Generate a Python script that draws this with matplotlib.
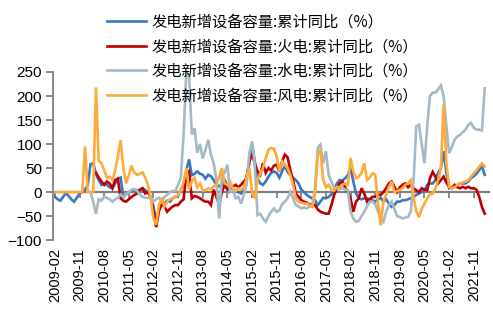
import numpy as np
import matplotlib
matplotlib.use("Agg")
import matplotlib.pyplot as plt

nan = np.nan

# Monthly data, 2009-02 .. 2022-03 (158 months)
start_month = "2009-02"
tick_labels = ["2009-02", "2009-11", "2010-08", "2011-05", "2012-02", "2012-11",
               "2013-08", "2014-05", "2015-02", "2015-11", "2016-08", "2017-05",
               "2018-02", "2018-11", "2019-08", "2020-05", "2021-02", "2021-11"]
tick_step = 9

total = [-10, -15, -18, -10, -2, -8, -15, -20, -12, -3,
         0, 5, 15, 58, 60, 38, 25, 15, 18, 15,
         10, 8, 18, 28, 30, -10, -5, 0, 3, 4,
         4, 3, 8, 4, 0, -10, -30, -62, -35, -25,
         -24, -18, -20, -13, -10, -8, 5, 15, 45, 68,
         35, 38, 43, 38, 36, 28, 36, 33, 25, 15,
         12, 15, 25, 15, 8, 5, 2, 0, -3, 8,
         29, 60, 100, 65, 29, 18, 15, 22, 32, 40,
         43, 40, 30, 43, 55, 42, 35, 30, 25, 18,
         5, 0, -6, -10, -13, -17, -27, -20, -12, -13,
         -10, -5, 4, 18, 25, 24, 29, 35, 50, 22,
         -3, -13, -15, -13, -13, -15, -17, -20, -15, -12,
         -20, -15, -24, -31, -27, -20, -20, -17, -17, -15,
         -13, -10, -6, -3, 0, 4, 15, 18, 18, 25,
         40, 50, 85, 40, 8, 10, 11, 15, 18, 18,
         18, 22, 29, 33, 38, 46, 53, 36]

thermal = [nan] * 15 + [
         40, 30, 22, 15, 22,
         18, 8, 25, 28, -13, -18, -20, -15, -10, -6,
         -3, 5, 8, -3, 0, -10, -40, -73, -40, -25,
         -30, -41, -35, -30, -27, -27, -20, -15, 36, 43,
         -13, -8, -10, -13, -17, -20, -20, -27, 5, -10,
         -25, 0, 15, 5, 8, 11, 15, 10, 15, 22,
         29, 64, 78, 60, 43, 36, 60, 40, 50, 45,
         55, 57, 43, 64, 78, 72, 45, 25, -3, -10,
         -17, -20, -22, -27, -25, -27, -36, -41, -43, -45,
         -45, -27, -6, 8, 18, 22, 10, 0, -13, -41,
         -20, -13, 8, -3, -20, -15, -10, -10, -6, -6,
         0, 8, 18, 22, 11, 0, 10, 15, 18, 10,
         15, 8, 4, 0, 8, 5, 4, 29, 42, 32,
         18, 25, 32, 20, 11, 8, 15, 10, 8, 11,
         8, 11, 8, 8, 5, -10, -31, -45]

hydro = [nan] * 13 + [
         0, -20, -45, -15, -18, -10, -12,
         -15, -20, -15, -12, -5, -10, -5, 0, 5, 6,
         3, -5, -10, -12, -12, -10, -20, -15, -12, -20,
         -10, -6, 0, 2, 2, 15, 30, 120, 250, 245,
         120, 133, 82, 100, 70, 88, 109, 78, 60, 25,
         -55, 36, 40, 57, 0, 5, -13, -10, -24, -6,
         15, 80, 106, 57, -48, -45, -55, -62, -50, -41,
         -34, -41, -38, -25, -20, -13, 0, -13, -27, -30,
         -34, -32, -34, -30, -28, 8, 92, 99, 60, 85,
         36, 22, 8, 8, 6, 8, 6, 4, -40, -55,
         -62, -60, -50, -41, -30, -20, -20, -25, -40, -55,
         -62, -41, -27, -20, -35, -50, -52, -55, -53, -52,
         -40, 20, 137, 140, 100, 60, 137, 200, 207, 207,
         214, 222, 200, 137, 81, 94, 109, 116, 119, 125,
         130, 140, 144, 134, 130, 130, 128, 216]

wind = [0, 0, 0, 0, 0, 0, 0, 0, 0, 0,
        0, 95, 0, 0, 0, 218, 65, 60, 45, 30,
        32, 25, 45, 75, 108, 50, 18, 35, 55, 40,
        36, 38, 41, 30, 15, -13, -55, -68, -27, -15,
        -30, -20, -15, -13, -10, -6, 5, 20, 50, 5,
        22, 29, 10, 18, 3, 4, 8, 6, 12, 15,
        32, 50, 18, 15, 22, 8, 2, 8, 5, 8,
        30, 50, 0, -13, 25, 39, 50, 70, 88, 92,
        90, 74, 43, 64, 57, 50, 36, 15, -13, -20,
        -22, -24, -24, -28, -31, -5, 75, 90, 25, 10,
        15, 4, 3, 11, 10, 15, 18, 15, 71, 43,
        29, 32, 40, 60, 25, 30, 39, 36, -20, -69,
        -20, -5, 11, 22, 0, 2, 5, 8, 15, 18,
        25, -10, -40, -52, -35, -24, -13, -5, -3, 8,
        25, 50, 183, 60, 11, 8, 10, 15, 18, 20,
        22, 25, 32, 39, 45, 53, 60, 53]

labels = ["发电新增设备容量:累计同比（%）",
          "发电新增设备容量:火电:累计同比（%）",
          "发电新增设备容量:水电:累计同比（%）",
          "发电新增设备容量:风电:累计同比（%）"]
colors = ["#3a76c4", "#c00000", "#a5b9c6", "#ffaa3a"]

plt.rcParams['font.family'] = ['Liberation Sans', 'DejaVu Sans']

fig = plt.figure(figsize=(4.93, 3.28), dpi=100)
ax = fig.add_axes([0.1075, 0.268, 0.884, 0.5125])

x = np.arange(len(total))
series = [total, thermal, hydro, wind]
handles = []
for s, c, lab in zip(series, colors, labels):
    h, = ax.plot(x, np.array(s, dtype=float), color=c, lw=1.9, label=lab,
                 solid_joinstyle='miter')
    handles.append(h)

ax.set_xlim(-0.7, 158.5)
ax.set_ylim(-100, 250)
ax.set_yticks(np.arange(-100, 251, 50))
ax.tick_params(axis='y', labelsize=11, length=5, width=1.3, color='#808080',
               labelcolor='#000000', pad=3)

for sp in ['top', 'right']:
    ax.spines[sp].set_visible(False)
ax.spines['left'].set_color('#808080')
ax.spines['left'].set_linewidth(1.3)
ax.spines['bottom'].set_position(('data', 0))
ax.spines['bottom'].set_color('#808080')
ax.spines['bottom'].set_linewidth(1.6)
ax.spines['bottom'].set_zorder(0.5)

tick_pos = np.arange(len(tick_labels)) * tick_step
ax.set_xticks(tick_pos)
ax.tick_params(axis='x', labelbottom=False, length=4, width=1.3,
               color='#808080', direction='out')

sec = ax.secondary_xaxis('bottom')
sec.set_xticks(tick_pos)
sec.set_xticklabels(tick_labels, rotation=90, fontsize=10.5)
sec.tick_params(length=0, pad=6)
sec.spines['bottom'].set_visible(False)

fig.legend(handles=handles, labels=labels, loc='upper left',
           bbox_to_anchor=(0.21, 0.968), frameon=False,
           prop={'family': ['Noto Sans CJK SC', 'DejaVu Sans'], 'size': 11},
           handlelength=2.6, handletextpad=0.33, labelspacing=0.5,
           borderaxespad=0, borderpad=0.2)

fig.savefig("out.png", dpi=100)
